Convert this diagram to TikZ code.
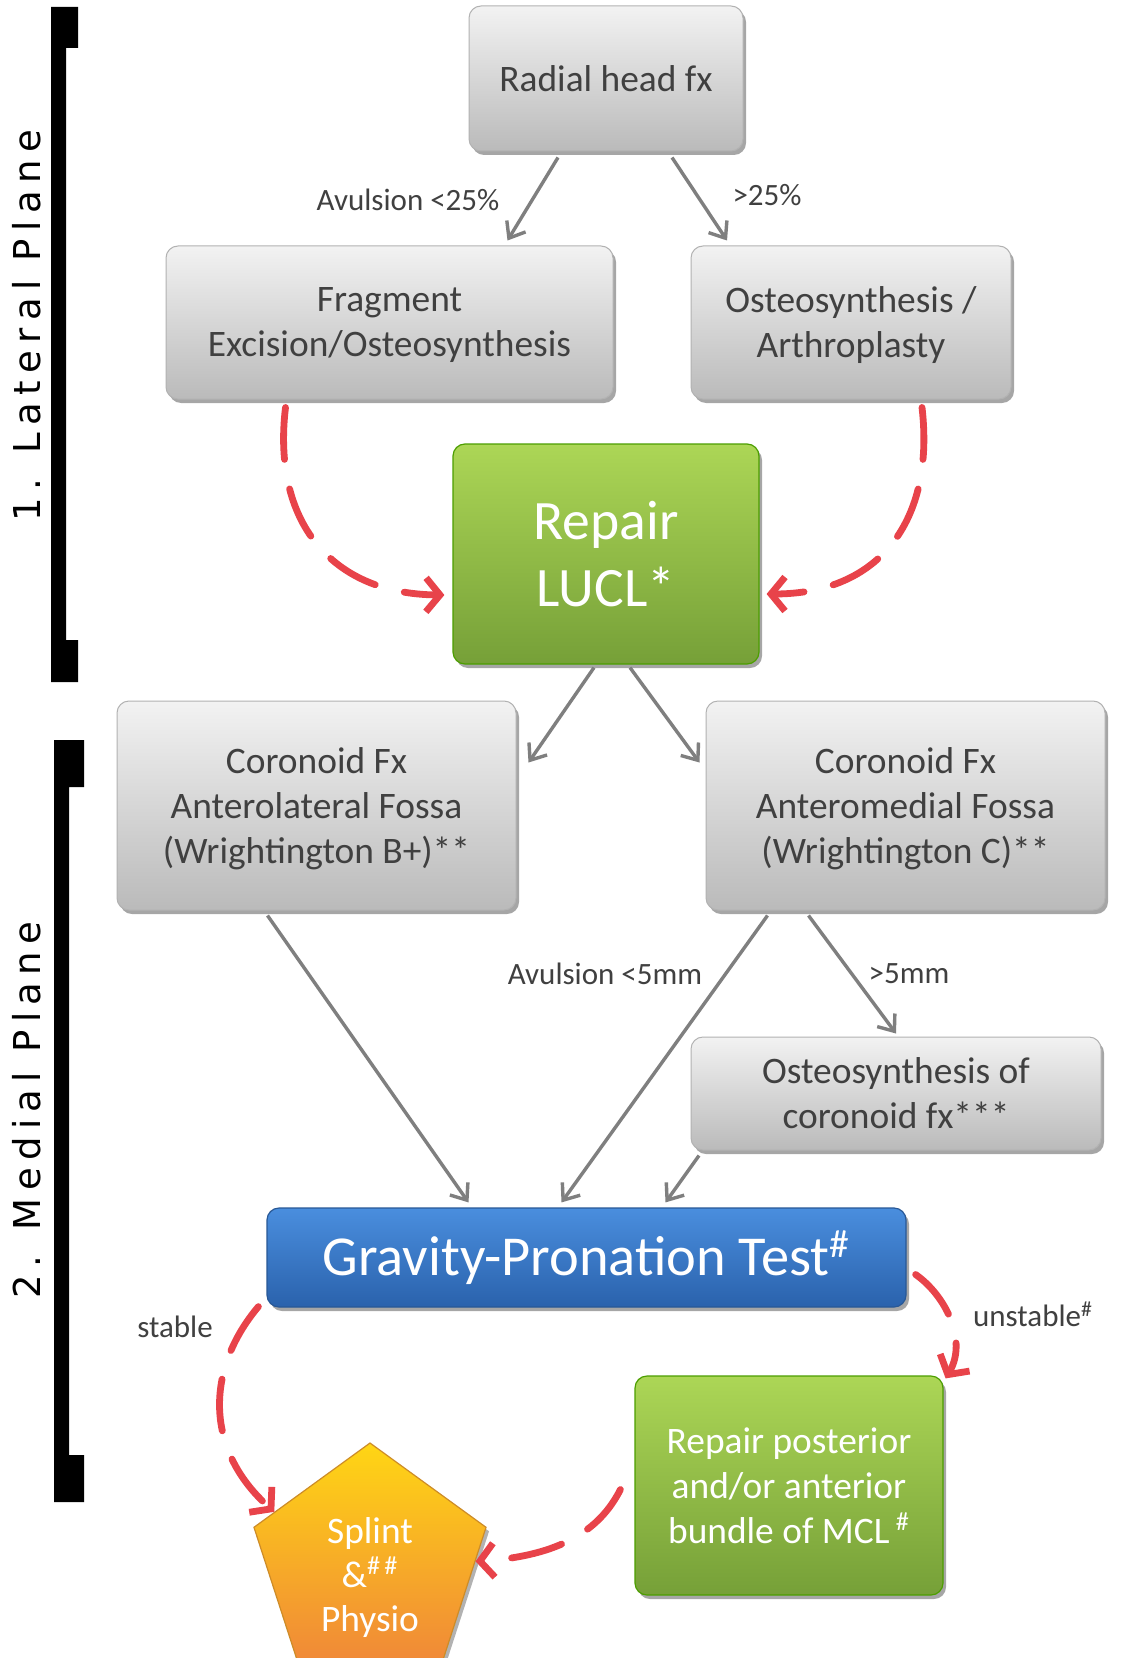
\documentclass[tikz,border=0pt]{standalone}
\usepackage{fontspec}
\setmainfont{Carlito}
\newfontfamily\planefont[LetterSpace=20]{DejaVu Sans}
\usetikzlibrary{arrows.meta,shapes.geometric,shadows,calc}
\definecolor{txtgray}{HTML}{404040}
\definecolor{arrgray}{HTML}{7F7F7F}
\definecolor{dashred}{HTML}{E8434A}
\tikzset{
  boxbase/.style={rounded corners=6pt, align=center, inner sep=2pt,
    drop shadow={shadow xshift=1.5pt, shadow yshift=-2pt, opacity=0.35, fill=black}},
  graybox/.style={boxbase, draw=black!30, line width=0.5pt, top color=white!95!black, bottom color=black!27,
    text=txtgray, font=\fontsize{18.7}{22.5}\selectfont, text depth=-2pt},
  greenbox/.style={boxbase, draw=black!20!green!40!olive, line width=0.6pt, top color={rgb,255:red,172;green,214;blue,86}, bottom color={rgb,255:red,118;green,160;blue,56},
    text=white, text depth=-2pt},
  bluebox/.style={boxbase, draw={rgb,255:red,40;green,88;blue,150}, line width=0.6pt, top color={rgb,255:red,74;green,142;blue,222}, bottom color={rgb,255:red,42;green,98;blue,172},
    text=white},
  penta/.style={regular polygon, regular polygon sides=5, inner sep=-10pt, align=center,
    draw={rgb,255:red,205;green,140;blue,40}, line width=0.6pt,
    top color={rgb,255:red,255;green,214;blue,20}, bottom color={rgb,255:red,240;green,136;blue,56},
    text=white, font=\fontsize{18.7}{22}\selectfont,
    drop shadow={shadow xshift=1.5pt, shadow yshift=-2pt, opacity=0.3, fill=black}},
  grayarrow/.style={draw=arrgray, line width=1.7pt, -{Straight Barb[length=7pt,width=11pt,line width=1.7pt]}},
  redarrow/.style={draw=dashred, line width=3.4pt, line cap=round, dash pattern=on 26pt off 15pt,
    -{Straight Barb[length=7pt,width=17pt,line width=3.4pt]}},
  lbl/.style={text=txtgray, font=\fontsize{15.5}{19}\selectfont, inner sep=1pt},
  planelbl/.style={rotate=90, font=\planefont\fontsize{18.5}{22}\selectfont, text=black}
}
\begin{document}
\begin{tikzpicture}[x=0.5pt,y=-0.5pt]
\useasboundingbox (0,0) rectangle (1126,1658);
\fill[white] (0,0) rectangle (1126,1658);

% brackets
\fill[black] (51,7) -- (78,7) -- (78,48) -- (66,48) -- (66,640) -- (78,640) -- (78,682) -- (51,682) -- cycle;
\fill[black] (54,740) -- (84,740) -- (84,787) -- (69,787) -- (69,1455) -- (84,1455) -- (84,1502) -- (54,1502) -- cycle;
\node[planelbl] (lat) at (27,326) {1. Lateral Plane};
\node[planelbl] (med) at (27,1110) {2. Medial Plane};

% nodes
\node[graybox, minimum width=137pt, minimum height=72.5pt] (radial) at (606,78.5) {Radial head fx};
\node[graybox, minimum width=223.5pt, minimum height=76.5pt] (frag) at (389.5,322.5) {Fragment\\Excision/Osteosynthesis};
\node[graybox, minimum width=160pt, minimum height=76.5pt] (osteo) at (851,322.5) {Osteosynthesis /\\Arthroplasty};
\node[greenbox, minimum width=153pt, minimum height=110pt, font=\fontsize{27.8}{33.5}\selectfont] (lucl) at (606,554) {Repair\\LUCL*};
\node[graybox, minimum width=199.5pt, minimum height=104.5pt] (al) at (316.5,805.5) {Coronoid Fx\\Anterolateral Fossa\\(Wrightington B+)**};
\node[graybox, minimum width=199.5pt, minimum height=104.5pt] (am) at (905.5,805.5) {Coronoid Fx\\Anteromedial Fossa\\(Wrightington C)**};
\node[graybox, minimum width=205pt, minimum height=56.5pt] (ocor) at (896,1093.5) {Osteosynthesis of\\coronoid fx***};
\node[bluebox, minimum width=319.5pt, minimum height=49.5pt, font=\fontsize{28.2}{33}\selectfont] (grav) at (586.5,1257.5) {Gravity-Pronation Test\textsuperscript{\#}};
\node[greenbox, minimum width=154pt, minimum height=109.5pt, font=\fontsize{18.7}{22.5}\selectfont] (mcl) at (789,1485.5) {Repair posterior\\and/or anterior\\bundle of MCL\,\textsuperscript{\#}};
\node[penta, minimum size=122pt] (splint) at (370,1565) {\rule{0pt}{25pt}Splint\\\&\textsuperscript{\#\,\#}\\Physio};

% gray arrows
\draw[grayarrow] ($(radial.south)+(-48,6)$) -- ($(frag.north)+(118,-5)$);
\draw[grayarrow] ($(radial.south)+(66,6)$) -- ($(osteo.north)+(-124,-5)$);
\draw[grayarrow] ($(lucl.south)+(-12,3)$) -- ($(al.east)+(12,-43)$);
\draw[grayarrow] ($(lucl.south)+(24,3)$) -- ($(am.west)+(-6,-43)$);
\draw[grayarrow] ($(al.south)+(-49,5)$) -- ($(grav.north)+(-118,-5)$);
\draw[grayarrow] ($(am.south)+(-138,5)$) -- ($(grav.north)+(-25,-5)$);
\draw[grayarrow] ($(am.south)+(-97,5)$) -- ($(ocor.north)+(0,-3)$);
\draw[grayarrow] ($(ocor.south)+(-197,5)$) -- ($(grav.north)+(79,-5)$);

% labels
\node[lbl] (l1) at (408,200) {Avulsion <25\%};
\node[lbl] (l2) at (767,195) {>25\%};
\node[lbl] (l3) at (605,974) {Avulsion <5mm};
\node[lbl] (l4) at (909,974) {>5mm};
\node[lbl] (l5) at (175,1327) {stable};
\node[lbl] (l6) at (1033,1314) {unstable\textsuperscript{\#}};

% red dashed curves
\draw[redarrow] ($(frag.south)+(-104,8)$) .. controls (272,520) and (330,594) .. ($(lucl.west)+(-8,41)$);
\draw[redarrow] ($(osteo.south)+(71,8)$) .. controls (935,520) and (880,594) .. ($(lucl.east)+(7,40)$);
\draw[redarrow] ($(grav.south west)+(-8,-1)$) .. controls (205,1370) and (205,1450) .. ($(splint.corner 1)!0.82!(splint.corner 2)$);
\draw[redarrow] ($(grav.east)+(9,17)$) .. controls (945,1295) and (968,1340) .. ($(mcl.north east)+(2,3)$);
\draw[redarrow] ($(mcl.west)+(-14,4)$) .. controls (600,1530) and (560,1556) .. ($(splint.corner 5)!0.25!(splint.corner 4)$);
\end{tikzpicture}
\end{document}
